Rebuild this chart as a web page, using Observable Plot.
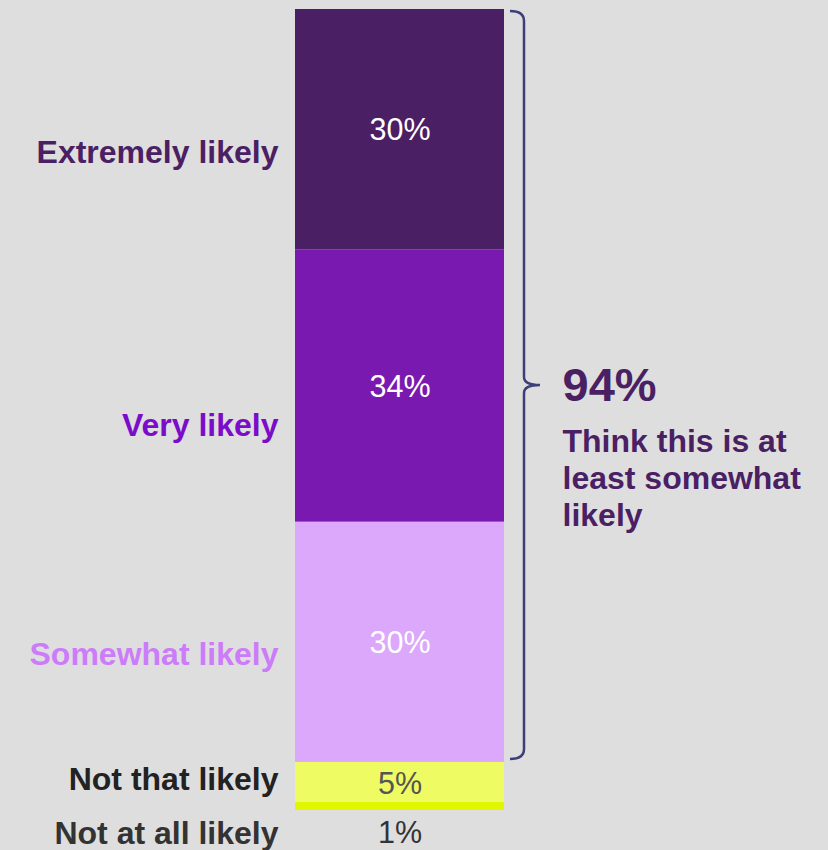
<!DOCTYPE html>
<html>
<head>
<meta charset="utf-8">
<script src="https://cdn.jsdelivr.net/npm/d3@7"></script>
<script src="https://cdn.jsdelivr.net/npm/@observablehq/plot@0.6"></script>
<style>
  html, body { margin: 0; padding: 0; background: #dedede; }
  #chart svg { display: block; }
</style>
</head>
<body>
<div id="chart"></div>
<script>
// Data (top to bottom)
const categories = ["Extremely likely", "Very likely", "Somewhat likely", "Not that likely", "Not at all likely"];
const values = [30, 34, 30, 5, 1];
const valueLabels = ["30%", "34%", "30%", "5%", "1%"];
const fillColors = ["#4b1f63", "#7a19b0", "#dba8fb", "#eefb63", "#e1f700"];
const labelColors = ["#4b1f63", "#7b0cca", "#cc7cf9", "#222222", "#333333"];
const valueColors = ["#ffffff", "#ffffff", "#ffffff", "#555555", "#333333"];
const summaryValue = "94%";
const summaryText = "Think this is at\nleast somewhat\nlikely";
const bracedShare = 94;

// layout tweaks (pixels) for label placement
const labelDy = [23, 40, 12, -3, 27];
const valueDy = [1, 1, 1, 2, 0];

// stack from bottom up
let acc = 0;
const rows = categories.map((c, i) => ({c, i})).reverse().map(({c, i}) => {
  const y1 = acc; acc += values[i];
  return {cat: c, i, y1, y2: acc, mid: (y1 + acc) / 2, bar: "bar"};
});
rows.forEach(r => { r.valueY = r.cat === "Not at all likely" ? r.y1 : r.mid; });

const font = "Liberation Sans, Arial, Helvetica, sans-serif";

const brace = (index, scales, values, dim) => {
  const x0 = dim.width - dim.marginRight;
  const xb = x0 + 20;
  const top = scales.y(100) + 2;
  const bot = scales.y(100 - bracedShare) - 3;
  const mid = (top + bot) / 2;
  const d = `M${x0 + 6},${top} Q${xb},${top} ${xb},${top + 10} L${xb},${mid - 8} ` +
    `Q${xb},${mid} ${xb + 16},${mid} Q${xb},${mid} ${xb},${mid + 8} L${xb},${bot - 10} ` +
    `Q${xb},${bot} ${x0 + 6},${bot}`;
  const el = document.createElementNS("http://www.w3.org/2000/svg", "path");
  el.setAttribute("d", d);
  el.setAttribute("fill", "none");
  el.setAttribute("stroke", "#3d3f7a");
  el.setAttribute("stroke-width", "2.5");
  return el;
};

const labelMarks = rows.map(r => Plot.text([r], {
  y: "mid", text: d => d.cat, frameAnchor: "left", textAnchor: "end", dx: -17, dy: labelDy[r.i],
  fill: labelColors[r.i], fontWeight: "bold", fontSize: 32, fontFamily: font
}));
const valueMarks = rows.map(r => Plot.text([r], {
  x: "bar", y: "valueY", text: d => valueLabels[d.i], dy: r.cat === "Not at all likely" ? 23 : valueDy[r.i],
  fill: valueColors[r.i], fontSize: 30.5, fontFamily: font, lineAnchor: "middle"
}));

const chart = Plot.plot({
  width: 828,
  height: 850,
  marginTop: 9,
  marginBottom: 40,
  marginLeft: 295,
  marginRight: 324,
  style: { background: "#dedede", fontFamily: font },
  x: { domain: ["bar"], axis: null, padding: 0 },
  y: { domain: [0, 100], axis: null },
  marks: [
    Plot.rectY(rows, { x: "bar", y1: "y1", y2: "y2", fill: d => fillColors[d.i] }),
    ...valueMarks,
    ...labelMarks,
    brace,
    Plot.text([summaryValue], { y: [53], text: d => d, frameAnchor: "right", textAnchor: "start", dx: 58, dy: 0,
      fill: "#4b1f63", fontWeight: "bold", fontSize: 47, fontFamily: font }),
    Plot.text([summaryText], { y: [53], text: d => d, frameAnchor: "right", textAnchor: "start", lineAnchor: "top", dx: 58, dy: 39,
      lineHeight: 1.17, fill: "#4b1f63", fontWeight: "bold", fontSize: 32, fontFamily: font })
  ]
});
document.getElementById("chart").append(chart);
</script>
</body>
</html>
